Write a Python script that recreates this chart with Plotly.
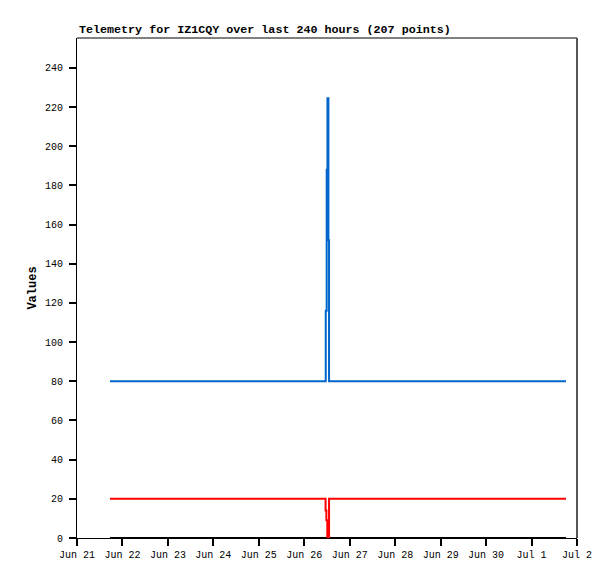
import plotly.graph_objects as go

# Data
blue_t = ["2023-06-21 17:25", "2023-06-26 11:20", "2023-06-26 11:50", "2023-06-26 12:15",
          "2023-06-26 12:45", "2023-06-26 13:05", "2023-07-01 18:12"]
blue_v = [80, 116, 188, 224.5, 152, 80, 80]

red_t = ["2023-06-21 17:25", "2023-06-26 11:15", "2023-06-26 11:40", "2023-06-26 12:10",
         "2023-06-26 13:05", "2023-07-01 18:12"]
red_v = [20, 14, 9, 0, 20, 20]

black_t = ["2023-06-21 17:25", "2023-07-01 18:12"]
black_v = [0, 0]

x_tickvals = ["2023-06-21", "2023-06-22", "2023-06-23", "2023-06-24", "2023-06-25", "2023-06-26",
              "2023-06-27", "2023-06-28", "2023-06-29", "2023-06-30", "2023-07-01", "2023-07-02"]
x_ticktext = ["Jun 21", "Jun 22", "Jun 23", "Jun 24", "Jun 25", "Jun 26",
              "Jun 27", "Jun 28", "Jun 29", "Jun 30", "Jul 1", "Jul 2"]
y_tickvals = [0, 20, 40, 60, 80, 100, 120, 140, 160, 180, 200, 220, 240]

title = "Telemetry for IZ1CQY over last 240 hours (207 points)"

fig = go.Figure()
fig.add_trace(go.Scatter(x=black_t, y=black_v, mode="lines", line=dict(color="#000000", width=2, shape="hv"),
                         showlegend=False, hoverinfo="skip"))
fig.add_trace(go.Scatter(x=red_t, y=red_v, mode="lines", line=dict(color="#ff0000", width=2, shape="hv"),
                         showlegend=False))
fig.add_trace(go.Scatter(x=blue_t, y=blue_v, mode="lines", line=dict(color="#0066cc", width=2, shape="hv"),
                         showlegend=False))

font = dict(family="Liberation Mono, DejaVu Sans Mono, monospace", size=10, color="#000000")

fig.update_layout(
    width=607, height=571,
    margin=dict(l=69, r=38, t=30, b=41),
    paper_bgcolor="white", plot_bgcolor="white",
    font=font,
    xaxis=dict(range=["2023-06-21", "2023-07-02"], tickmode="array", tickvals=x_tickvals, ticktext=x_ticktext,
               showgrid=False, zeroline=False, showline=True, linecolor="#000000", linewidth=1,
               ticks="outside", ticklen=7, tickcolor="#000000", tickwidth=2, tickfont=font),
    yaxis=dict(range=[0, 255.3], tickmode="array", tickvals=y_tickvals,
               showgrid=False, zeroline=False, showline=True, linecolor="#000000", linewidth=1,
               ticks="outside", ticklen=7, tickcolor="#000000", tickwidth=2, tickfont=font,
               ticklabelstandoff=4,
               title=dict(text="<b>Values</b>", font=dict(family="Liberation Mono, monospace", size=12),
                          standoff=5)),
    shapes=[
        dict(type="line", xref="paper", yref="paper", x0=0, x1=1, y0=1, y1=1,
             line=dict(color="#000000", width=1)),
        dict(type="line", xref="paper", yref="paper", x0=1, x1=1, y0=0, y1=1,
             line=dict(color="#555555", width=2)),
    ],
    annotations=[
        dict(text="<b>" + title + "</b>", xref="paper", yref="paper", x=0, y=1, xanchor="left",
             yanchor="bottom", yshift=-1, showarrow=False,
             font=dict(family="Liberation Mono, monospace", size=11.7, color="#000000"))
    ],
)

fig.write_html("out.html")
